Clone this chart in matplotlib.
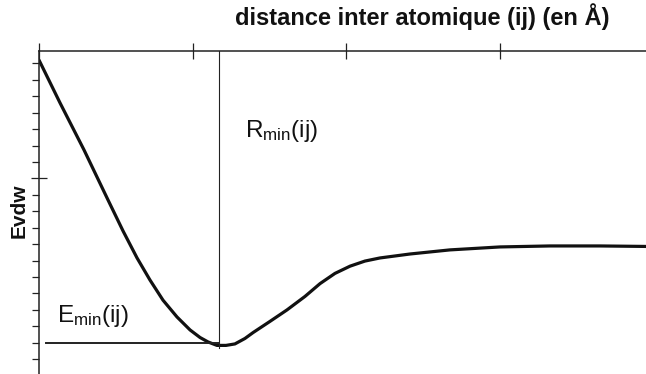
import numpy as np
import matplotlib.pyplot as plt
from matplotlib.ticker import FixedLocator

plt.rcParams['font.family'] = 'Liberation Sans'
plt.rcParams['mathtext.fontset'] = 'custom'
plt.rcParams['mathtext.rm'] = 'Liberation Sans'
plt.rcParams['mathtext.it'] = 'Liberation Sans:italic'

# Van der Waals energy versus inter-atomic distance
distance = [0.0, 0.137, 0.293, 0.449, 0.547, 0.638, 0.722, 0.807, 0.898,
            0.983, 1.048, 1.100, 1.158, 1.217, 1.275, 1.340, 1.393, 1.503,
            1.614, 1.731, 1.829, 1.926, 2.024, 2.121, 2.219, 2.414, 2.674,
            3.000, 3.325, 3.651, 3.950]
energy = [11.20, 8.59, 5.73, 2.69, 0.80, -0.84, -2.18, -3.41, -4.43,
          -5.22, -5.68, -5.95, -6.16, -6.16, -6.07, -5.74, -5.38, -4.70,
          -4.00, -3.18, -2.40, -1.78, -1.34, -1.03, -0.84, -0.60, -0.35,
          -0.17, -0.11, -0.11, -0.14]

r_min = 1.171
e_min = -6.03

x_major = [0, 1, 2, 3]
y_minor = list(range(-7, 12))
y_major = [4]

fig = plt.figure(figsize=(6.46, 3.74), dpi=100)
ax = fig.add_axes([39 / 646, 0.0, 1 - 39 / 646, 1 - 51 / 374])

ax.plot(distance, energy, color='#111111', lw=2.3,
        solid_capstyle='round', solid_joinstyle='round')
ax.plot([r_min, r_min], [11.75, -6.3], color='#222222', lw=0.8)
ax.plot([0.046, r_min], [e_min, e_min], color='#222222', lw=1.4)

ax.set_xlim(0, 3.95)
ax.set_ylim(-7.9, 11.75)

for side in ['bottom', 'right']:
    ax.spines[side].set_visible(False)
for side in ['top', 'left']:
    ax.spines[side].set_linewidth(1.1)
    ax.spines[side].set_color('#222222')

ax.xaxis.set_ticks_position('top')
ax.xaxis.set_major_locator(FixedLocator(x_major))
ax.tick_params(axis='x', which='major', direction='inout', length=12,
               width=0.9, color='#222222', labeltop=False, labelbottom=False)

ax.yaxis.set_major_locator(FixedLocator(y_major))
ax.yaxis.set_minor_locator(FixedLocator(y_minor))
ax.tick_params(axis='y', which='minor', direction='out', length=5,
               width=0.9, color='#222222')
ax.tick_params(axis='y', which='major', direction='inout', length=12,
               width=0.9, color='#222222', labelleft=False)

ax.text(1.34, 6.52, r'R$_\mathrm{min}$(ij)', fontsize=17.5, color='#111111',
        va='baseline', ha='left')
ax.text(0.117, -4.71, r'E$_\mathrm{min}$(ij)', fontsize=17.5, color='#111111',
        va='baseline', ha='left')

fig.text(422 / 646, 1 - 17 / 374, 'distance inter atomique (ij) (en Å)',
         fontsize=17, fontweight='bold', ha='center', va='center',
         color='#111111')
fig.text(19 / 646, 1 - 211 / 374, 'Evdw', fontsize=15, fontweight='bold',
         rotation=90, ha='center', va='center', color='#111111')

fig.savefig('out.png', dpi=100)
